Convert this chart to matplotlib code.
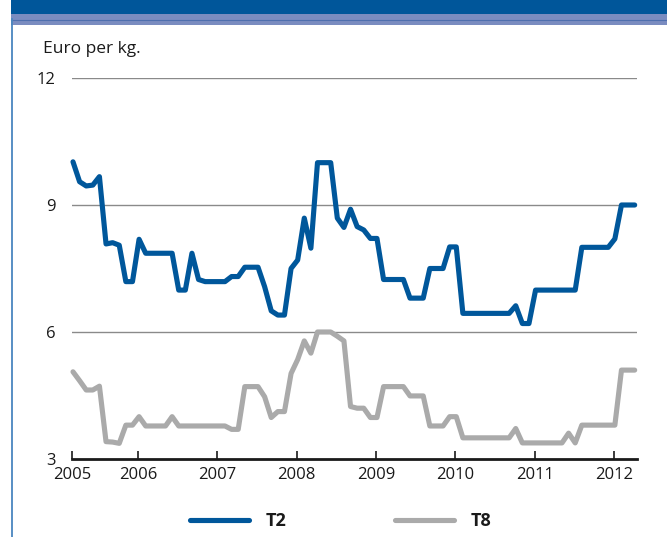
import matplotlib
matplotlib.use("Agg")
import matplotlib.pyplot as plt
from matplotlib.patches import Rectangle
from matplotlib.lines import Line2D
import numpy as np

# Monthly data, March 2005 .. April 2012 (86 months)
start_year, start_month = 2005, 3
t2 = [10.02, 9.55, 9.45, 9.47, 9.67, 8.08, 8.11, 8.05, 7.19, 7.19,
      8.19, 7.86, 7.86, 7.86, 7.86, 7.86, 6.99, 6.99, 7.86, 7.24,
      7.19, 7.19, 7.19, 7.19, 7.31, 7.31, 7.53, 7.53, 7.53, 7.07,
      6.50, 6.40, 6.40, 7.50, 7.70, 8.69, 7.98, 10.0, 10.0, 10.0,
      8.69, 8.47, 8.90, 8.49, 8.41, 8.21, 8.21, 7.24, 7.24, 7.24,
      7.24, 6.80, 6.80, 6.80, 7.50, 7.50, 7.50, 8.01, 8.01, 6.44,
      6.44, 6.44, 6.44, 6.44, 6.44, 6.44, 6.44, 6.62, 6.20, 6.20,
      6.99, 6.99, 6.99, 6.99, 6.99, 6.99, 6.99, 8.00, 8.00, 8.00,
      8.00, 8.00, 8.20, 9.00, 9.00, 9.00]
t8 = [5.06, 4.85, 4.63, 4.63, 4.72, 3.41, 3.40, 3.37, 3.80, 3.80,
      4.00, 3.78, 3.78, 3.78, 3.78, 4.00, 3.78, 3.78, 3.78, 3.78,
      3.78, 3.78, 3.78, 3.78, 3.70, 3.70, 4.71, 4.71, 4.71, 4.47,
      3.98, 4.12, 4.12, 5.02, 5.35, 5.79, 5.50, 6.00, 6.00, 6.00,
      5.90, 5.79, 4.24, 4.20, 4.20, 3.98, 3.98, 4.71, 4.71, 4.71,
      4.71, 4.49, 4.49, 4.49, 3.78, 3.78, 3.78, 4.00, 4.00, 3.50,
      3.50, 3.50, 3.50, 3.50, 3.50, 3.50, 3.50, 3.72, 3.38, 3.38,
      3.38, 3.38, 3.38, 3.38, 3.38, 3.61, 3.38, 3.80, 3.80, 3.80,
      3.80, 3.80, 3.80, 5.10, 5.10, 5.10]
series_names = ["T2", "T8"]
year_labels = ["2005", "2006", "2007", "2008", "2009", "2010", "2011", "2012"]
y_ticks = [3, 6, 9, 12]

BLUE = "#00579b"
GRAY = "#aaaaaa"

plt.rcParams['font.family'] = ['Open Sans', 'DejaVu Sans']

W, H = 667, 537
fig = plt.figure(figsize=(W / 100, H / 100), dpi=100)

# header bands and left border
fig.add_artist(Rectangle((11 / W, 1 - 14 / H), 1, 14 / H, transform=fig.transFigure,
                         facecolor="#00569a", edgecolor="none"))
fig.add_artist(Rectangle((11 / W, 1 - 25 / H), 1, 11 / H, transform=fig.transFigure,
                         facecolor="#7a8cc0", edgecolor="none"))
fig.add_artist(Line2D([11 / W, 1], [1 - 19.5 / H, 1 - 19.5 / H], transform=fig.transFigure,
                      color="#4f6fae", lw=0.8))
fig.add_artist(Line2D([11.5 / W, 11.5 / W], [0, 1 - 19 / H], transform=fig.transFigure,
                      color="#4a86bf", lw=1.3))

ax = fig.add_axes([72 / W, (H - 459) / H, 565 / W, 381 / H])

n = len(t2)
x = np.arange(n)
months_abs = [start_year * 12 + start_month - 1 + i for i in range(n)]
tick_pos = [0] + [i for i, m in enumerate(months_abs) if m % 12 == 0]

ax.plot(x + 0.15, t2, color=BLUE, lw=3.7, solid_capstyle="round", label=series_names[0],
        zorder=3, clip_on=False)
ax.plot(x + 0.15, t8, color=GRAY, lw=3.7, solid_capstyle="round", label=series_names[1],
        zorder=3, clip_on=False)

ax.set_xlim(0, 85.5)
ax.set_ylim(3, 12)
ax.set_yticks(y_ticks)
ax.set_yticklabels([str(v) for v in y_ticks])
ax.set_xticks(tick_pos)
ax.set_xticklabels(year_labels[:len(tick_pos)])

for v in y_ticks[1:]:
    ax.axhline(v, color="#8a8a8a", lw=1.0, zorder=1)

for s in ["top", "right", "left"]:
    ax.spines[s].set_visible(False)
ax.spines["bottom"].set_color("#1a1a1a")
ax.spines["bottom"].set_linewidth(2.0)
ax.spines["bottom"].set_zorder(4)

ax.tick_params(axis="y", length=0, pad=12, labelsize=12, labelcolor="#1a1a1a")
ax.tick_params(axis="x", direction="in", length=6, width=1.2, color="#1a1a1a",
               pad=6, labelsize=12, labelcolor="#1a1a1a")

fig.text(43 / W, 1 - 53 / H, "Euro per kg.", fontsize=12.5, color="#1a1a1a",
         ha="left", va="baseline")

leg = fig.legend(loc="center", bbox_to_anchor=((191 + 490) / 2 / W, 1 - 521 / H),
                 ncol=2, frameon=False, handlelength=3.3, handletextpad=0.9,
                 columnspacing=6.0, prop={"weight": "bold", "size": 13})
for t in leg.get_texts():
    t.set_color("#1a1a1a")

fig.savefig("out.png", dpi=100)
